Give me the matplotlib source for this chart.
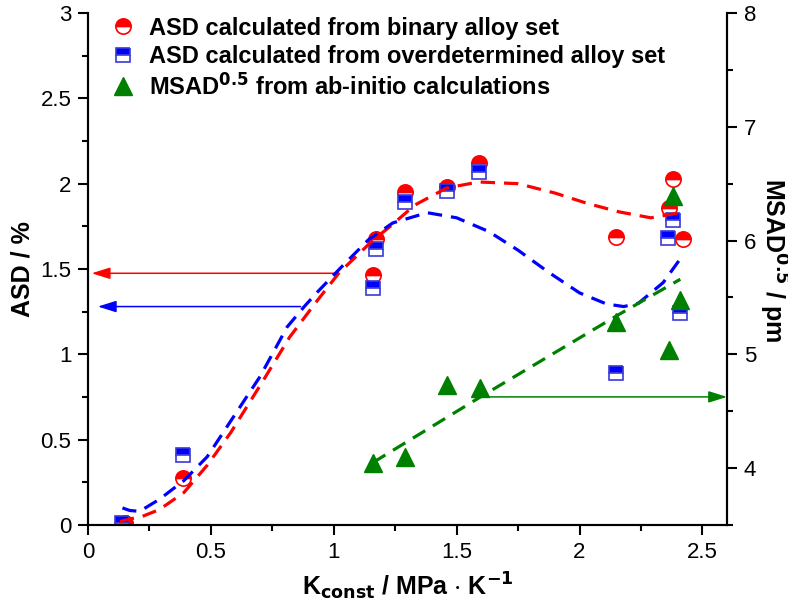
import matplotlib
matplotlib.use("Agg")
import matplotlib.pyplot as plt
from matplotlib.ticker import MultipleLocator, FuncFormatter

plt.rcParams["font.family"] = ["Liberation Sans", "DejaVu Sans"]
plt.rcParams["mathtext.default"] = "regular"

# measured points
k_asd = [0.15, 0.385, 1.16, 1.17, 1.29, 1.46, 1.59, 2.15, 2.365, 2.38, 2.42]
asd_binary = [0.01, 0.275, 1.465, 1.675, 1.95, 1.98, 2.12, 1.69, 1.86, 2.03, 1.675]
k_over = [0.14, 0.387, 1.16, 1.17, 1.29, 1.46, 1.59, 2.15, 2.36, 2.38, 2.41]
asd_over = [0.01, 0.41, 1.39, 1.62, 1.89, 1.96, 2.07, 0.89, 1.68, 1.79, 1.24]
k_msad = [1.16, 1.29, 1.46, 1.595, 2.15, 2.365, 2.38, 2.41]
msad = [4.045, 4.10, 4.73, 4.70, 5.28, 5.04, 6.39, 5.48]

# trend curves
fit_red_x = [0.13, 0.17, 0.22, 0.29, 0.39, 0.485, 0.58, 0.71, 0.82, 0.93, 1.02, 1.11, 1.16,
             1.23, 1.33, 1.46, 1.59, 1.75, 1.90, 2.03, 2.16, 2.29, 2.41]
fit_red_y = [0.02, 0.035, 0.05, 0.09, 0.19, 0.35, 0.54, 0.84, 1.10, 1.31, 1.475, 1.60, 1.67,
             1.75, 1.875, 1.975, 2.01, 2.00, 1.945, 1.885, 1.835, 1.80, 1.83]
fit_blue_x = [0.14, 0.17, 0.21, 0.29, 0.39, 0.485, 0.565, 0.70, 0.81, 0.88, 0.93, 1.03, 1.14,
              1.24, 1.38, 1.50, 1.63, 1.75, 1.875, 2.0, 2.11, 2.18, 2.24, 2.34, 2.41]
fit_blue_y = [0.10, 0.085, 0.08, 0.15, 0.26, 0.40, 0.575, 0.87, 1.16, 1.28, 1.36, 1.51, 1.67,
              1.77, 1.83, 1.80, 1.72, 1.61, 1.48, 1.36, 1.295, 1.28, 1.30, 1.42, 1.56]
fit_green_x = [1.16, 1.60, 2.16, 2.41]
fit_green_y = [4.05, 4.63, 5.35, 5.66]

RED = "#ff0000"
BLUE = "#0000ff"
GREEN = "#008000"

fig = plt.figure(figsize=(7.88, 6.08), dpi=100)
ax = fig.add_axes([0.1117, 0.1365, 0.8109, 0.8421])
ax2 = ax.twinx()

l1, = ax.plot(k_asd, asd_binary, ls="none", marker="o", ms=11, fillstyle="top",
              mfc=RED, mfcalt="white", mec=RED, mew=1.2, zorder=3,
              label="ASD calculated from binary alloy set")
l2, = ax.plot(k_over, asd_over, ls="none", marker="s", ms=10, fillstyle="top",
              mfc=BLUE, mfcalt="white", mec="#3a3ad8", mew=1.2, zorder=3,
              label="ASD calculated from overdetermined alloy set")
ax.plot(fit_red_x, fit_red_y, color=RED, lw=2.3, dashes=(4.5, 2.8), zorder=4)
ax.plot(fit_blue_x, fit_blue_y, color=BLUE, lw=2.3, dashes=(4.5, 2.8), zorder=4)

l3, = ax2.plot(k_msad, msad, ls="none", marker="^", ms=13, color=GREEN, zorder=3,
               label="MSAD$^{\\mathbf{0.5}}$ from ab-initio calculations")
ax2.plot(fit_green_x, fit_green_y, color=GREEN, lw=2.3, dashes=(4.5, 2.8), zorder=4)

# arrows pointing to the matching axis
head = "-|>,head_length=0.7,head_width=0.22"
ax.annotate("", xy=(0.015, 1.475), xytext=(1.02, 1.475),
            arrowprops=dict(arrowstyle=head, color=RED, lw=1.1, mutation_scale=16,
                            shrinkA=0, shrinkB=0))
ax.annotate("", xy=(0.04, 1.28), xytext=(0.865, 1.28),
            arrowprops=dict(arrowstyle=head, color=BLUE, lw=1.1, mutation_scale=16,
                            shrinkA=0, shrinkB=0))
ax2.annotate("", xy=(2.6, 4.626), xytext=(1.63, 4.626),
             arrowprops=dict(arrowstyle=head, color=GREEN, lw=1.1, mutation_scale=16,
                             shrinkA=0, shrinkB=0))

ax.set_xlim(0, 2.6)
ax.set_ylim(0, 3)
ax2.set_ylim(3.5, 8)

fmt = FuncFormatter(lambda v, p: f"{v:g}")
ax.xaxis.set_major_locator(MultipleLocator(0.5))
ax.xaxis.set_minor_locator(MultipleLocator(0.25))
ax.yaxis.set_major_locator(MultipleLocator(0.5))
ax.yaxis.set_minor_locator(MultipleLocator(0.25))
ax2.yaxis.set_major_locator(MultipleLocator(1))
ax2.yaxis.set_minor_locator(MultipleLocator(0.5))
ax.xaxis.set_major_formatter(fmt)
ax.yaxis.set_major_formatter(fmt)
ax2.yaxis.set_major_formatter(fmt)

for a in (ax, ax2):
    a.spines["top"].set_visible(False)
    for s in a.spines.values():
        s.set_linewidth(1.5)
    a.tick_params(which="major", direction="out", length=7, width=1.5, labelsize=16, pad=5)
    a.tick_params(which="minor", direction="out", length=4.5, width=1.5)

ax.set_ylabel("ASD / %", fontsize=18, fontweight="bold", labelpad=4)
fig.text(0.981, 0.572, "MSAD$^{\\mathbf{0.5}}$ / pm", fontsize=18, fontweight="bold",
         rotation=-90, ha="center", va="center")
ax.set_xlabel("K$_{\\mathbf{const}}$ / MPa $\\cdot$ K$^{\\mathbf{-1}}$", fontsize=18,
              fontweight="bold", labelpad=6)

leg = ax.legend(handles=[l1, l2, l3], loc="upper left", bbox_to_anchor=(0.0, 1.025),
                frameon=False, prop={"weight": "bold", "size": 17},
                handletextpad=0.3, labelspacing=0.22, borderaxespad=0.3, numpoints=1,
                handlelength=1.6)

fig.savefig("out.png", dpi=100)
